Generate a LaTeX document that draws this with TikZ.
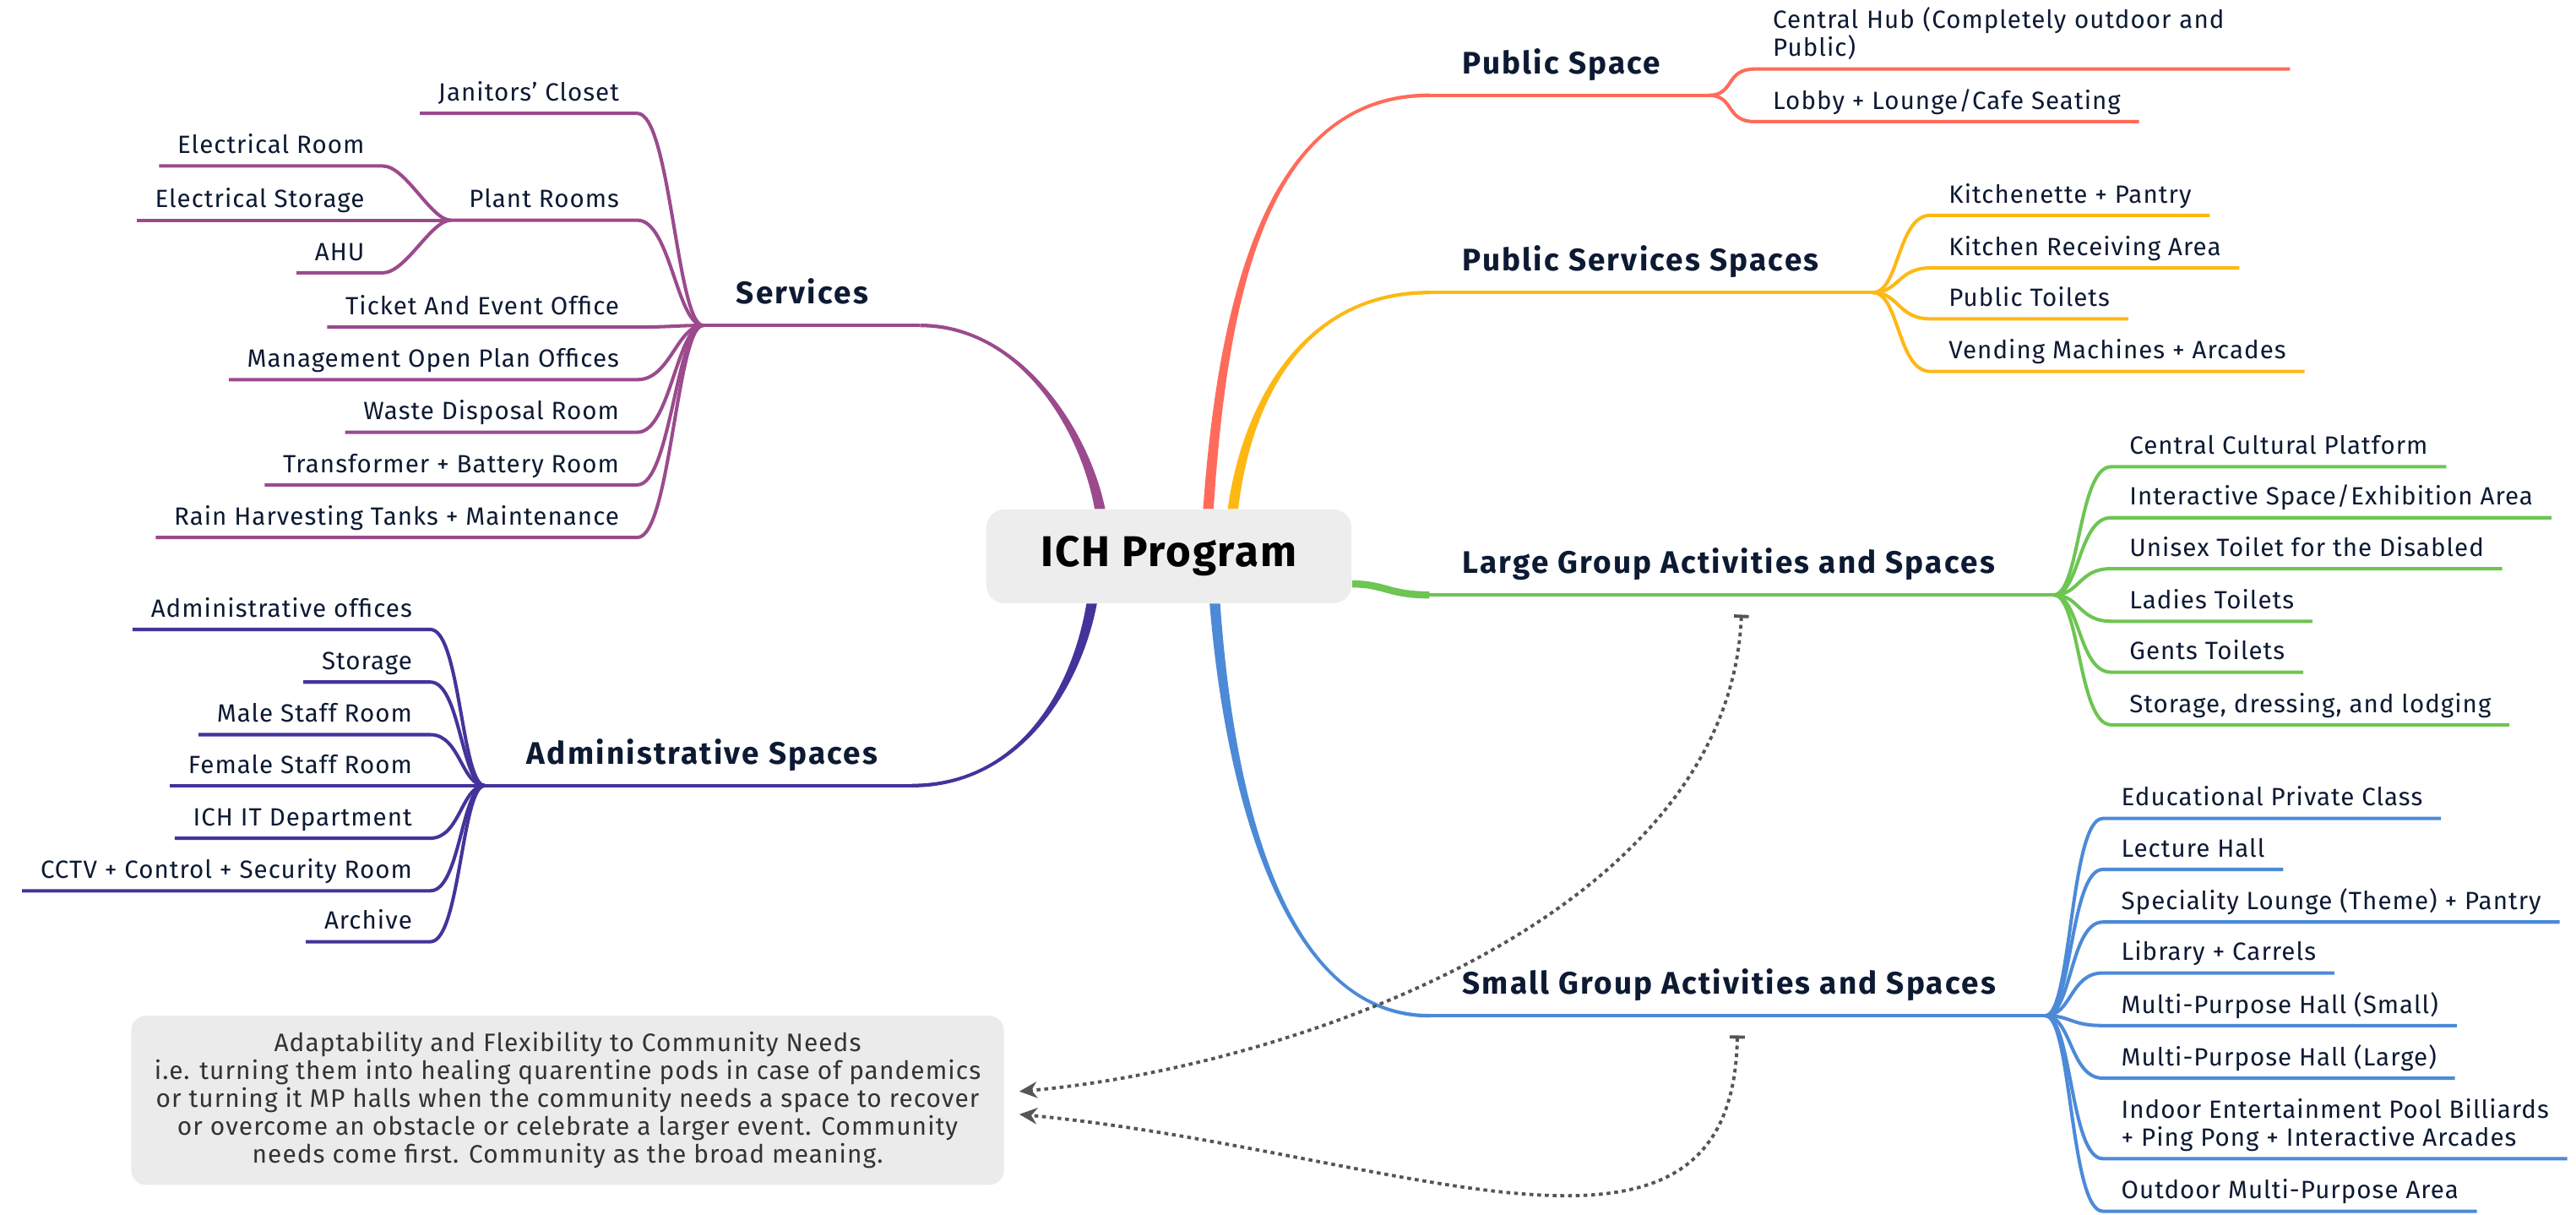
\documentclass[tikz,border=0pt]{standalone}
\usepackage{fontspec}
\setmainfont{Fira Sans}[LetterSpace=3.5]
\newfontfamily\topicfont{Fira Sans}[LetterSpace=6]
\usetikzlibrary{arrows.meta,calc}
\definecolor{ink}{HTML}{0D1A33}
\definecolor{boxgrey}{HTML}{EDEDED}
\definecolor{notegrey}{HTML}{EBEBEB}
\definecolor{notetext}{HTML}{333333}
\definecolor{linkgrey}{HTML}{555555}
\definecolor{svcol}{HTML}{9B4A8D}
\definecolor{adcol}{HTML}{45339B}
\definecolor{pscol}{HTML}{FF6B5B}
\definecolor{pvcol}{HTML}{FDB813}
\definecolor{lgcol}{HTML}{6DC552}
\definecolor{sgcol}{HTML}{4C8AD8}
% tapered main branch: colour, start, control 1, control 2, end, side
\newcommand{\limb}[6]{\fill[#1] ($#2+(-3.2,0)$) .. controls ($#3+(-2.6,0)$) and ($#4+(0,{-1.1*(#6)})$) .. ($#5+(0,{-1.1*(#6)})$) -- ($#5+(0,{1.1*(#6)})$) .. controls ($#4+(0,{1.1*(#6)})$) and ($#3+(2.6,0)$) .. ($#2+(3.2,0)$) -- cycle;}
\begin{document}
\begin{tikzpicture}[x=0.0194515cm,y=-0.0194515cm,
  every node/.style={text=ink,font=\fontsize{8.4}{9.4}\selectfont},
  topic/.style={anchor=south west,inner xsep=11pt,inner ysep=5pt,text depth=2pt,font=\fontsize{10.5}{12}\topicfont\bfseries},
  leafR/.style={anchor=south west,inner xsep=6pt,inner ysep=2.2pt,text depth=1.8pt,align=left},
  leafL/.style={anchor=south east,inner xsep=6pt,inner ysep=2.2pt,text depth=1.8pt,align=right},
  twig/.style={line width=1.15pt},
  link/.style={draw=linkgrey,line width=1.1pt,dash pattern=on 1.3pt off 1.3pt,{Bar[width=5pt,line width=1.1pt]}-{Stealth[length=6pt,width=5.5pt]}}]
\useasboundingbox[fill=white] (0,0) rectangle (1568,739);
% centre topic
\node[fill=boxgrey,rounded corners=6pt,minimum width=123pt,minimum height=31.5pt,text=black,font=\fontsize{14.5}{18}\selectfont\bfseries] (root) at (711.5,338.5) {ICH Program};
% where the main branches leave the centre and meet their topics
\coordinate (ps-out) at ($(root.north)+(24,0)$);
\coordinate (pv-out) at ($(root.north)+(39,0)$);
\coordinate (lg-out) at ($(root.south east)+(0,-12)$);
\coordinate (sg-out) at ($(root.south)+(28,0)$);
\coordinate (sv-out) at ($(root.north)+(-42,0)$);
\coordinate (ad-out) at ($(root.south)+(-47,0)$);
\coordinate (ps-in) at (870,58);   \coordinate (ps-fork) at (1040,58);
\coordinate (pv-in) at (870,178);  \coordinate (pv-fork) at (1140,178);
\coordinate (lg-in) at (870,362);  \coordinate (lg-fork) at (1250,362);
\coordinate (sg-in) at (870,618);  \coordinate (sg-fork) at (1245,618);
\coordinate (sv-in) at (560,198);  \coordinate (sv-fork) at (428,198);
\coordinate (ad-in) at (555,478);  \coordinate (ad-fork) at (295,478);
% main branches
\limb{pscol}{(ps-out)}{(745,170)}{(775,58)}{(ps-in)}{1}
\limb{pvcol}{(pv-out)}{(758,250)}{(790,178)}{(pv-in)}{1}
\limb{sgcol}{(sg-out)}{(748,480)}{(780,618)}{(sg-in)}{-1}
\limb{svcol}{(sv-out)}{(660,260)}{(620,198)}{(sv-in)}{-1}
\limb{adcol}{(ad-out)}{(655,420)}{(620,478)}{(ad-in)}{1}
\draw[lgcol,line width=2.4pt] (lg-out) .. controls +(20,0) and +(-25,0) .. (lg-in);
\foreach \b/\c in {ps/pscol,pv/pvcol,lg/lgcol,sg/sgcol,sv/svcol,ad/adcol} \draw[twig,\c] (\b-in) -- (\b-fork);
% topic labels
\node[topic] (ps) at (ps-in) {Public Space};
\node[topic] (pv) at (pv-in) {Public Services Spaces};
\node[topic] (lg) at (lg-in) {Large Group Activities and Spaces};
\node[topic] (sg) at (sg-in) {Small Group Activities and Spaces};
\node[topic] (sv) at (sv-fork) {Services};
\node[topic,inner xsep=14pt] (ad) at (ad-fork) {Administrative Spaces};
% Public Space
\node[leafR,text width=168pt,text depth=11.2pt] (ps1) at (1068,42) {Central Hub (Completely outdoor and\\Public)};
\node[leafR] (ps2) at (1068,74) {Lobby + Lounge/Cafe Seating};
\foreach \i in {1,2} \draw[twig,pscol] (ps-fork) .. controls +(16,0) and +(-18,0) .. (ps\i.south west) -- (ps\i.south east);
% Public Services Spaces
\foreach \yy/\txt [count=\i] in {131/Kitchenette + Pantry,163/Kitchen Receiving Area,194/Public Toilets,226/Vending Machines + Arcades}{
  \node[leafR] (pv\i) at (1175,\yy) {\txt};
  \draw[twig,pvcol] (pv-fork) .. controls +(16,0) and +(-20,0) .. (pv\i.south west) -- (pv\i.south east);
}
% Large Group Activities and Spaces
\foreach \yy/\txt [count=\i] in {284/Central Cultural Platform,315/{Interactive Space/Exhibition Area},346/Unisex Toilet for the Disabled,378/Ladies Toilets,409/Gents Toilets,441/{Storage, dressing, and lodging}}{
  \node[leafR] (lg\i) at (1285,\yy) {\txt};
  \draw[twig,lgcol] (lg-fork) .. controls +(16,0) and +(-20,0) .. (lg\i.south west) -- (lg\i.south east);
}
% Small Group Activities and Spaces
\foreach \yy/\txt [count=\i] in {498/Educational Private Class,529/Lecture Hall,561/Speciality Lounge (Theme) + Pantry,592/Library + Carrels,624/Multi-Purpose Hall (Small),656/Multi-Purpose Hall (Large),705/{Indoor Entertainment Pool Billiards\\+ Ping Pong + Interactive Arcades},737/Outdoor Multi-Purpose Area}{
  \node[leafR] (sg\i) at (1280,\yy) {\txt};
  \draw[twig,sgcol] (sg-fork) .. controls +(16,0) and +(-20,0) .. (sg\i.south west) -- (sg\i.south east);
}
% Services
\foreach \yy/\txt [count=\i] in {69/Janitors' Closet,134/Plant Rooms,199/Ticket And Event Office,231/Management Open Plan Offices,263/Waste Disposal Room,295/Transformer + Battery Room,327/Rain Harvesting Tanks + Maintenance}{
  \node[leafL] (sv\i) at (388,\yy) {\txt};
  \draw[twig,svcol] (sv-fork) .. controls +(-16,0) and +(20,0) .. (sv\i.south east) -- (sv\i.south west);
}
% Plant Rooms
\foreach \yy/\txt [count=\i] in {101/Electrical Room,134/Electrical Storage,166/AHU}{
  \node[leafL] (pr\i) at (233,\yy) {\txt};
  \draw[twig,svcol] (sv2.south west) .. controls +(-12,0) and +(14,0) .. (pr\i.south east) -- (pr\i.south west);
}
% Administrative Spaces
\foreach \yy/\txt [count=\i] in {383/Administrative offices,415/Storage,447/Male Staff Room,478/Female Staff Room,510/ICH IT Department,542/CCTV + Control + Security Room,573/Archive}{
  \node[leafL] (ad\i) at (262,\yy) {\txt};
  \draw[twig,adcol] (ad-fork) .. controls +(-14,0) and +(18,0) .. (ad\i.south east) -- (ad\i.south west);
}
% note and its links
\node[fill=notegrey,rounded corners=5pt,minimum width=294pt,minimum height=57pt,align=center,text=notetext,font=\fontsize{8.5}{9.4}\selectfont] (note) at (345.5,669.5) {Adaptability and Flexibility to Community Needs\\i.e. turning them into healing quarentine pods in case of pandemics\\or turning it MP halls when the community needs a space to recover\\or overcome an obstacle or celebrate a larger event. Community\\needs come first. Community as the broad meaning.};
\coordinate (lg-tie) at ($(lg-in)!.5!(lg-fork)+(0,12)$);
\coordinate (sg-tie) at ($(sg-in)!.5!(sg-fork)+(0,12)$);
\draw[link] (lg-tie) .. controls +(-8,186) and +(160,-14) .. ([xshift=5pt,yshift=3pt]note.east);
\draw[link] (sg-tie) .. controls +(-3,170) and +(230,22) .. ([xshift=5pt,yshift=-4.7pt]note.east);
\end{tikzpicture}
\end{document}
